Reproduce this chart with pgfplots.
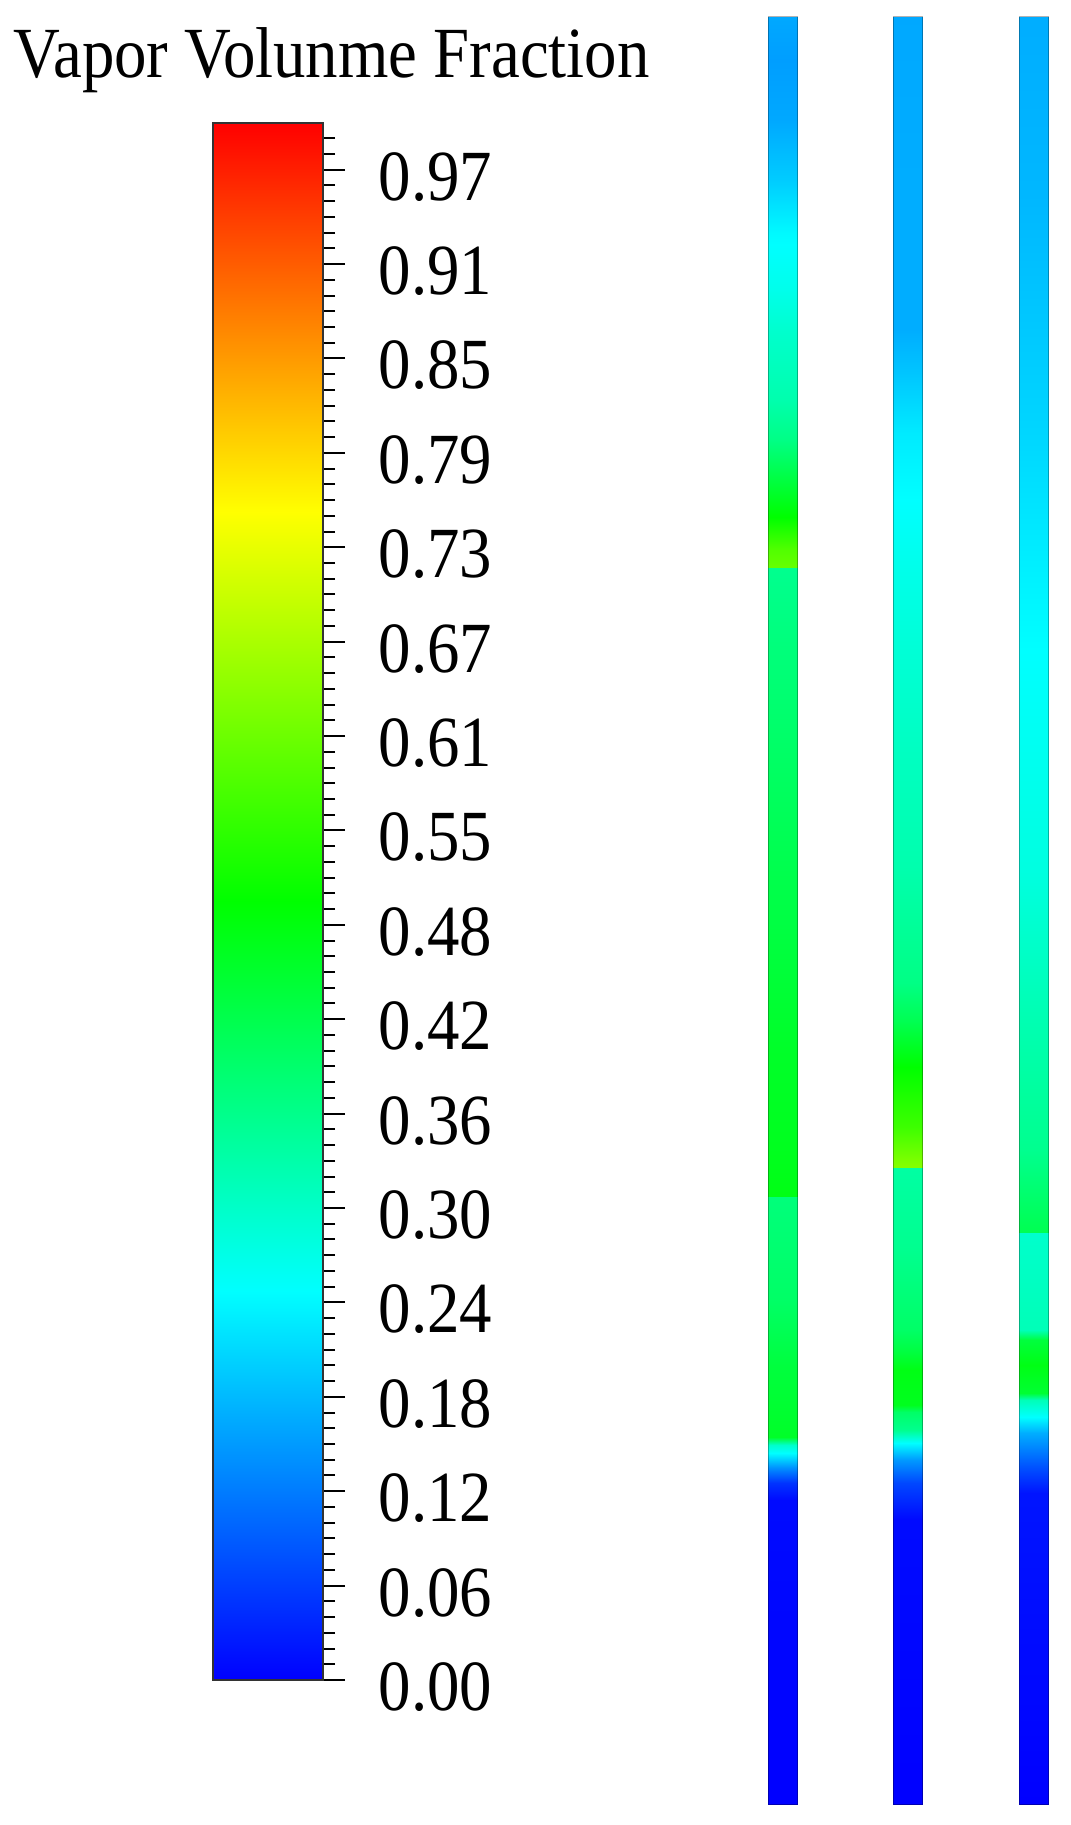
\documentclass[border=0pt]{standalone}
\usepackage{fontspec}
\setmainfont[FakeStretch=0.9]{Liberation Serif}
\usepackage{pgfplots}
\pgfplotsset{compat=1.18}

% Fluent-style rainbow map, vapor volume fraction 0..1
\pgfplotsset{
  colormap={fluent}{rgb255=(0,0,255) rgb255=(0,255,255) rgb255=(0,255,0) rgb255=(255,255,0) rgb255=(255,0,0)},
}

\begin{document}
\begin{tikzpicture}[x=1pt,y=1pt]
  % page size: 1070 x 1825 px at 0.3pt per px
  \useasboundingbox (0,0) rectangle (321,547.5);

  \node[anchor=base west, inner sep=0pt, font=\fontsize{21.6}{26}\selectfont]
    at (3.9,524.1) {Vapor Volunme Fraction};

  % ---- colour scale ----
  \begin{axis}[
    at={(63.9pt,43.5pt)}, anchor=south west,
    scale only axis, width=33pt, height=467.1pt,
    xmin=0, xmax=1, ymin=0, ymax=1,
    colormap name=fluent, point meta min=0, point meta max=1,
    xtick=\empty,
    ytick pos=right, yticklabel pos=right,
    tick align=outside,
    ytick={0,0.060625,0.12125,0.181875,0.2425,0.303125,0.36375,0.424375,0.485,
           0.545625,0.60625,0.666875,0.7275,0.788125,0.84875,0.909375,0.97},
    yticklabels={0.00,0.06,0.12,0.18,0.24,0.30,0.36,0.42,0.48,0.55,0.61,0.67,0.73,0.79,0.85,0.91,0.97},
    minor ytick={0,0.0101042,...,1.0},
    major tick length=6.6pt, minor tick length=3.6pt,
    every tick/.style={black, line width=0.6pt},
    axis line style={black!80, line width=0.45pt},
    yticklabel style={anchor=west, inner sep=0pt, xshift=9.9pt, yshift=-2.1pt,
                      font=\fontsize{21.6}{26}\selectfont},
    axis on top,
  ]
    \addplot[surf, shader=interp, mesh/cols=2, point meta=\thisrow{c}] table {
      x y c
      0 0    0
      1 0    0
      0 0.25 0.25
      1 0.25 0.25
      0 0.5  0.5
      1 0.5  0.5
      0 0.75 0.75
      1 0.75 0.75
      0 1    1
      1 1    1
    };
  \end{axis}

  % ---- three channels, x and y in source pixels ----
  \begin{axis}[
    at={(230.4pt,6.3pt)}, anchor=south west,
    scale only axis, width=84.3pt, height=536.1pt,
    xmin=768, xmax=1049, ymin=17, ymax=1804, y dir=reverse,
    hide axis, clip=false,
    colormap name=fluent, point meta min=0, point meta max=1,
  ]
    % channel 1
    \addplot[surf, shader=interp, mesh/cols=2, point meta=\thisrow{c}] table {
      x y c
      768 17 0.165
      797 17 0.165
      768 60 0.155
      797 60 0.155
      768 120 0.165
      797 120 0.165
      768 180 0.20
      797 180 0.20
      768 233 0.245
      797 233 0.245
      768 290 0.27
      797 290 0.27
      768 333 0.30
      797 333 0.30
      768 400 0.33
      797 400 0.33
      768 440 0.37
      797 440 0.37
      768 470 0.42
      797 470 0.42
      768 517 0.50
      797 517 0.50
      768 550 0.58
      797 550 0.58
      768 567 0.60
      797 567 0.60
      768 568 0.36
      797 568 0.36
      768 650 0.38
      797 650 0.38
      768 800 0.41
      797 800 0.41
      768 950 0.44
      797 950 0.44
      768 1050 0.46
      797 1050 0.46
      768 1150 0.47
      797 1150 0.47
      768 1196 0.48
      797 1196 0.48
      768 1197 0.38
      797 1197 0.38
      768 1300 0.40
      797 1300 0.40
      768 1367 0.44
      797 1367 0.44
      768 1437 0.46
      797 1437 0.46
      768 1445 0.30
      797 1445 0.30
      768 1453 0.25
      797 1453 0.25
      768 1468 0.14
      797 1468 0.14
      768 1483 0.05
      797 1483 0.05
      768 1500 0.01
      797 1500 0.01
      768 1804 0.0
      797 1804 0.0
    };
    % channel 2
    \addplot[surf, shader=interp, mesh/cols=2, point meta=\thisrow{c}] table {
      x y c
      893 17 0.165
      922 17 0.165
      893 200 0.17
      922 200 0.17
      893 330 0.17
      922 330 0.17
      893 367 0.19
      922 367 0.19
      893 433 0.23
      922 433 0.23
      893 500 0.25
      922 500 0.25
      893 567 0.27
      922 567 0.27
      893 650 0.29
      922 650 0.29
      893 750 0.31
      922 750 0.31
      893 868 0.33
      922 868 0.33
      893 983 0.37
      922 983 0.37
      893 1021 0.42
      922 1021 0.42
      893 1067 0.50
      922 1067 0.50
      893 1127 0.56
      922 1127 0.56
      893 1160 0.62
      922 1160 0.62
      893 1167 0.63
      922 1167 0.63
      893 1168 0.34
      922 1168 0.34
      893 1250 0.36
      922 1250 0.36
      893 1330 0.40
      922 1330 0.40
      893 1353 0.44
      922 1353 0.44
      893 1370 0.48
      922 1370 0.48
      893 1405 0.47
      922 1405 0.47
      893 1412 0.40
      922 1412 0.40
      893 1430 0.36
      922 1430 0.36
      893 1443 0.25
      922 1443 0.25
      893 1460 0.15
      922 1460 0.15
      893 1483 0.07
      922 1483 0.07
      893 1519 0.01
      922 1519 0.01
      893 1804 0.0
      922 1804 0.0
    };
    % channel 3
    \addplot[surf, shader=interp, mesh/cols=2, point meta=\thisrow{c}] table {
      x y c
      1019 17 0.17
      1048 17 0.17
      1019 200 0.18
      1048 200 0.18
      1019 433 0.21
      1048 433 0.21
      1019 567 0.235
      1048 567 0.235
      1019 650 0.25
      1048 650 0.25
      1019 720 0.26
      1048 720 0.26
      1019 870 0.28
      1048 870 0.28
      1019 1000 0.32
      1048 1000 0.32
      1019 1150 0.36
      1048 1150 0.36
      1019 1217 0.41
      1048 1217 0.41
      1019 1232 0.42
      1048 1232 0.42
      1019 1233 0.30
      1048 1233 0.30
      1019 1330 0.32
      1048 1330 0.32
      1019 1340 0.44
      1048 1340 0.44
      1019 1365 0.48
      1048 1365 0.48
      1019 1393 0.45
      1048 1393 0.45
      1019 1400 0.32
      1048 1400 0.32
      1019 1417 0.25
      1048 1417 0.25
      1019 1433 0.17
      1048 1433 0.17
      1019 1467 0.08
      1048 1467 0.08
      1019 1493 0.02
      1048 1493 0.02
      1019 1804 0.0
      1048 1804 0.0
    };
    % faint wall outlines of the channels
    \addplot[black, opacity=0.3, line width=0.3pt] coordinates {(768,17) (768,1804) (797,1804) (797,17) (768,17)};
    \addplot[black, opacity=0.3, line width=0.3pt] coordinates {(893,17) (893,1804) (922,1804) (922,17) (893,17)};
    \addplot[black, opacity=0.3, line width=0.3pt] coordinates {(1019,17) (1019,1804) (1048,1804) (1048,17) (1019,17)};
  \end{axis}
\end{tikzpicture}
\end{document}
